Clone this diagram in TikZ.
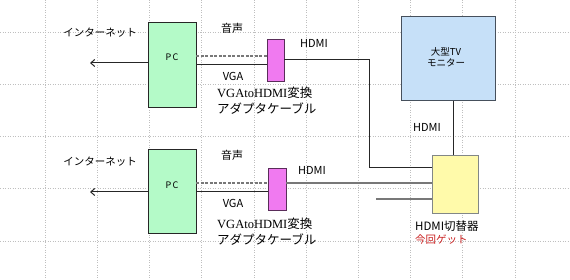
\documentclass[tikz,border=0pt]{standalone}
\usepackage{fontspec}
\setmainfont{Noto Sans CJK JP}
\newfontfamily\minfont{Liberation Serif}
\usetikzlibrary{arrows.meta,positioning}
\definecolor{PCGreen}{RGB}{180,250,200}
\definecolor{AdapterPink}{RGB}{240,122,240}
\definecolor{AdapterEdge}{RGB}{90,45,90}
\definecolor{TVBlue}{RGB}{198,224,248}
\definecolor{TVEdge}{RGB}{70,80,92}
\definecolor{SwitchYellow}{RGB}{255,250,170}
\definecolor{SwitchEdge}{RGB}{130,135,135}
\definecolor{GetRed}{RGB}{200,30,30}
\definecolor{WireGray}{RGB}{120,120,120}
\tikzset{
  gridline/.style={gray!50,dotted,line width=0.5pt},
  pcbox/.style={draw=black!85,fill=PCGreen,line width=0.9pt,
    minimum width=48pt,minimum height=85pt,inner sep=0pt},
  adapter/.style={draw=AdapterEdge,fill=AdapterPink,line width=0.9pt,
    minimum width=17pt,minimum height=42pt,inner sep=0pt},
  tvbox/.style={draw=TVEdge,fill=TVBlue,line width=1pt,
    minimum width=94pt,minimum height=84pt,inner sep=0pt},
  switchbox/.style={draw=SwitchEdge,fill=SwitchYellow,line width=1pt,
    minimum width=46pt,minimum height=58pt,inner sep=0pt},
  txt/.style={font=\fontsize{10.5}{12}\selectfont,inner sep=0pt},
  bigtxt/.style={font=\fontsize{11}{12}\selectfont,inner sep=0pt},
  small/.style={font=\fontsize{9}{11}\selectfont,inner sep=0pt},
  serif/.style={font=\fontsize{12.5}{15.5}\selectfont,align=left,inner sep=0pt},
  netarrow/.style={-{Straight Barb[length=4pt,width=7pt]},black!85,line width=1pt},
  vga/.style={black!85,line width=1pt},
  audio/.style={WireGray,dashed,dash pattern=on 3pt off 1.5pt,line width=1.2pt},
  hdmi/.style={WireGray,line width=1.3pt},
  hdmidark/.style={black!85,line width=1pt}
}

\begin{document}
\begin{tikzpicture}[x=1pt,y=-1pt]
  \useasboundingbox (0,0) rectangle (570,280);
  % background grid
  \foreach \gx in {0,...,9}
    \draw[gridline] (45+52.2*\gx,0) -- (45+52.2*\gx,280);
  \foreach \gy in {0,...,4}
    \draw[gridline] (0,32+52.2*\gy) -- (570,32+52.2*\gy);

  % TV and switch
  \node[tvbox] (tv) at (448,59) {};
  \node[small,align=center,font=\fontsize{9.5}{11.5}\selectfont] (tvtxt) at (446,57) {大型TV\\モニター};
  \node[switchbox] (switch) at (455,185) {};
  \node[bigtxt,anchor=west,font=\fontsize{11.5}{12}\selectfont] (swtxt) at (415,226) {HDMI切替器};
  \node[txt,anchor=west,text=GetRed] (get) at (415,240) {今回ゲット};
  \coordinate (tvx) at (453,0);
  \draw[hdmidark] (tv.south -| tvx) -- (switch.north -| tvx);
  \node[bigtxt] (hdmitv) at (427,127) {HDMI};

  % upper PC
  \node[pcbox] (pc1) at (172,64.5) {};
  \node[small] (pc1txt) at ([yshift=7pt]pc1.center) {P\,C};
  \node[adapter] (ad1) at (275.5,60) {};
  \coordinate (net1) at (90,63);
  \coordinate (au1) at (0,56);
  \coordinate (vg1) at (0,65);
  \coordinate (bend1) at (369,168);
  \draw[netarrow] (pc1.west |- net1) -- (net1);
  \draw[audio] (pc1.east |- au1) -- (ad1.west |- au1);
  \draw[vga] (pc1.east |- vg1) -- (ad1.west |- vg1);
  \draw[hdmidark] (ad1.east) -| (bend1) -- (switch.west |- bend1);
  \node[txt] (inet1) at (100,33) {インターネット};
  \node[bigtxt] (snd1) at (232,28) {音声};
  \node[bigtxt] (vgat1) at (233,76) {VGA};
  \node[bigtxt] (hdmi1) at (314,43) {HDMI};
  \node[serif,anchor=north west] (cab1) at (217,87) {{\minfont VGAtoHDMI}変換\\アダプタケーブル};

  % lower PC
  \node[pcbox,minimum height=84pt] (pc2) at (172,191) {};
  \node[small] (pc2txt) at ([yshift=6pt]pc2.center) {P\,C};
  \node[adapter,minimum width=18pt] (ad2) at (277,189) {};
  \coordinate (net2) at (90,192);
  \coordinate (au2) at (0,183);
  \coordinate (vg2) at (0,192);
  \coordinate (spare) at (376,199);
  \draw[netarrow] (pc2.west |- net2) -- (net2);
  \draw[audio] (pc2.east |- au2) -- (ad2.west |- au2);
  \draw[vga] (pc2.east |- vg2) -- (ad2.west |- vg2);
  \draw[hdmi] (ad2.east |- au2) -- (switch.west |- au2);
  \draw[hdmi] (spare) -- (switch.west |- spare);
  \node[txt] (inet2) at (100,162) {インターネット};
  \node[bigtxt] (snd2) at (232,155) {音声};
  \node[bigtxt] (vgat2) at (233,203) {VGA};
  \node[bigtxt] (hdmi2) at (312,170) {HDMI};
  \node[serif,anchor=north west] (cab2) at (217,218) {{\minfont VGAtoHDMI}変換\\アダプタケーブル};
\end{tikzpicture}
\end{document}
